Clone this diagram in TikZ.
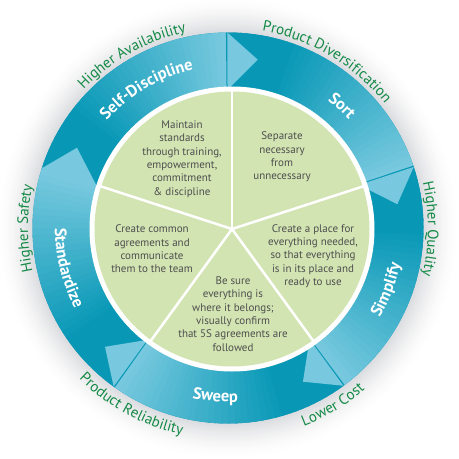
\documentclass[tikz,border=0pt]{standalone}
\usepackage{fontspec}
\setmainfont{PT Sans}
\usetikzlibrary{decorations.text}
\definecolor{tealdark}{HTML}{0898B6}
\definecolor{teallight}{HTML}{78C9DF}
\definecolor{piegreen}{HTML}{D3E4B3}
\definecolor{piegray}{HTML}{4E4E4E}
\definecolor{labgreen}{HTML}{138A45}
\definecolor{halogray}{HTML}{DADBDE}
\tikzset{
  pietext/.style={align=center, text=piegray, font=\fontsize{11}{13.3}\selectfont, inner sep=0pt},
  divider/.style={white, line width=2.5pt}
}
% centre angle, direction (1 = counter-clockwise, -1 = clockwise), radius, format, text
\newcommand{\arclabel}[5]{%
  \pgfmathsetmacro\sa{#1-#2*40}\pgfmathsetmacro\ea{#1+#2*40}%
  \path[decorate, decoration={text along path, text align=center,
    text={|#4|#5}}] (\sa:#3) arc[start angle=\sa, end angle=\ea, radius=#3];
}
\newcommand{\ringfont}{\color{white}\bfseries\fontsize{16.5}{16.5}\selectfont}
\newcommand{\labfont}{\color{labgreen}\fontsize{15}{15}\selectfont}
\begin{document}
\begin{tikzpicture}[x=1pt,y=1pt]
\useasboundingbox (0,0) rectangle (459,-459);
\fill[white] (0,0) rectangle (459,-459);
\coordinate (C) at (228,-228);
\coordinate (P) at (232,-229);
\begin{scope}[shift={(C)}]
  % halo
  \foreach \r in {230,228,...,196} {
    \pgfmathsetmacro\hv{((230-\r)/34)^1.5*100}
    \fill[halogray!\hv!white] (0,0) circle (\r);
  }
  % ring base
  \fill[tealdark] (0,0) circle (195.5);
  % gradient bodies: light at the head end, dark at the tail end
  \foreach \H in {80,8,-64,-136,152} {
    \foreach \a in {0,2,...,70} {
      \pgfmathsetmacro\mv{max(0,min(100,(1-\a/52)*100))}
      \fill[teallight!\mv!tealdark] (0,0) -- ({\H+10+\a}:195.5)
        arc[start angle={\H+10+\a}, end angle={\H+12.6+\a}, radius=195.5] -- cycle;
    }
  }
  % chevron heads
  \foreach \H in {80,8,-64,-136,152} {
    \fill[teallight] ({\H+10.2}:138) -- (\H:171) -- ({\H+10.2}:195.5) -- cycle;
  }
\end{scope}
% pie
\fill[white] (P) circle (142.5);
\fill[piegreen] (P) circle (137.5);
\foreach \d in {90,18,-54,-126,162} {
  \draw[divider] (P) -- ++(\d:139);
}
% ring labels (white)
\begin{scope}[shift={(C)}]
  \arclabel{120.4}{-1}{162}{\ringfont}{Self-Discipline}
  \arclabel{46.9}{-1}{162}{\ringfont}{Sort}
  \arclabel{-21.2}{1}{176}{\ringfont}{Simplify}
  \arclabel{265.7}{1}{174}{\ringfont}{Sweep}
  \arclabel{193.9}{1}{173}{\ringfont}{Standardize}
  % outer green labels
  \arclabel{119.1}{-1}{200}{\labfont}{Higher Availability}
  \arclabel{59.25}{-1}{200}{\labfont}{Product Diversification}
  \arclabel{-0.3}{-1}{200}{\labfont}{Higher Quality}
  \arclabel{180.1}{-1}{200}{\labfont}{Higher Safety}
  \arclabel{241.4}{1}{212}{\labfont}{Product Reliability}
  \arclabel{-59.4}{1}{212}{\labfont}{Lower Cost}
\end{scope}
% pie texts
\node[pietext] (tsd) at (182,-159) {Maintain\\standards\\through training,\\empowerment,\\commitment\\\& discipline};
\node[pietext] (tsort) at (282,-157) {Separate\\necessary\\from\\unnecessary};
\node[pietext] (tsimp) at (313,-256) {Create a place for\\everything needed,\\so that everything\\is in its place and\\ready to use};
\node[pietext] (tstd) at (152,-249) {Create common\\agreements and\\communicate\\them to the team};
\node[pietext] (tsweep) at (233,-314) {Be sure\\everything is\\where it belongs;\\visually confirm\\that 5S agreements are\\followed};
\end{tikzpicture}
\end{document}
